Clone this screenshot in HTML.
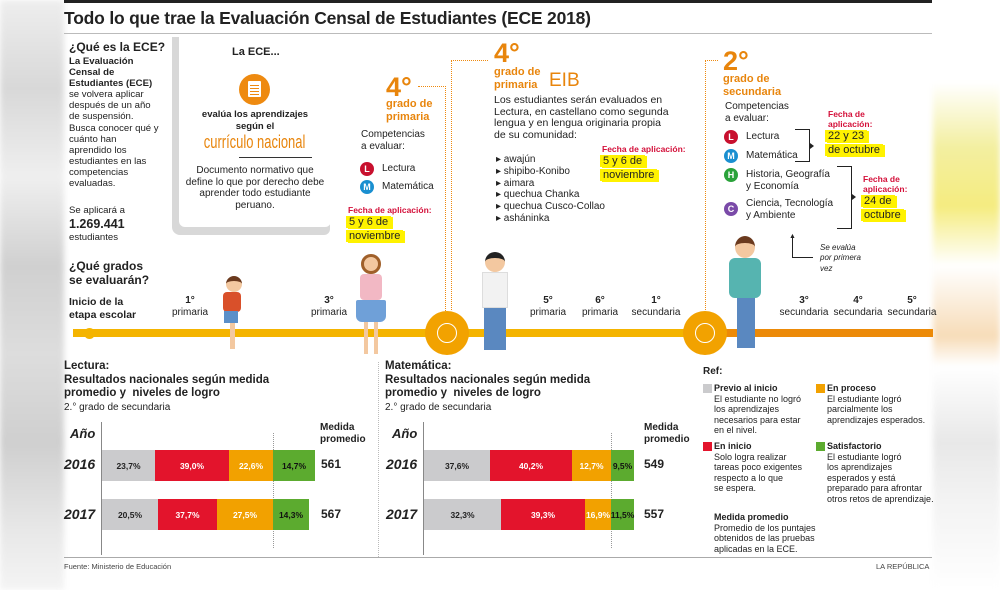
<!DOCTYPE html>
<html><head><meta charset="utf-8">
<style>
*{margin:0;padding:0;box-sizing:border-box}
body{width:1000px;height:590px;position:relative;overflow:hidden;background:#fff;font-family:"Liberation Sans","DejaVu Sans",sans-serif;color:#222}
.a{position:absolute;white-space:nowrap}
.b{font-weight:bold}
.or{color:#e8850c}
.red{color:#d4103a}
.hl{background:#fff200;padding:0 3px;box-shadow:2px 1px 0 #fff200}
.seg{position:absolute;height:31px;font-size:8.5px;font-weight:bold;display:flex;align-items:center;justify-content:center}
.g{background:#cbcbcd;color:#222}.r{background:#e3142c;color:#fff}.o{background:#f2a100;color:#fff}.gr{background:#5cab2f;color:#111}
.circ{position:absolute;width:14px;height:14px;border-radius:50%;color:#fff;font-size:9px;font-weight:bold;text-align:center;line-height:14px}
.sq{position:absolute;width:9px;height:9px}
.t9{font-size:9px;line-height:10.5px}
.t10{font-size:10px;line-height:11.7px}
.t11{font-size:11px;line-height:12px}
</style></head><body>
<!-- blurred sides -->
<div class="a" style="left:0;top:0;width:64px;height:590px;background:linear-gradient(180deg,#eee 0,#d8d8d8 15%,#efefef 30%,#d0d0d0 45%,#ddd 60%,#cfcfcf 75%,#e8e8e8 90%,#f4f4f4 100%);filter:blur(3px)"></div>
<div class="a" style="left:933px;top:0;width:67px;height:590px;background:linear-gradient(180deg,#fff 0,#fff 14%,#f3efa0 25%,#f5ec80 35%,#fff 45%,#f7dcb8 57%,#fff 62%,#e8e8e8 75%,#f3f3f3 85%,#fff 100%);filter:blur(3px)"></div>

<div class="a" style="left:64px;top:0;width:868px;height:3px;background:#222"></div>
<div class="a b" style="left:64px;top:8px;font-size:17.5px;letter-spacing:-0.2px">Todo lo que trae la Evaluación Censal de Estudiantes (ECE 2018)</div>
<div class="a" style="left:64px;top:33px;width:868px;height:1px;background:#bbb"></div>

<!-- left column -->
<div class="a b" style="left:69px;top:40px;font-size:12px">¿Qué es la ECE?</div>
<div class="a" style="left:69px;top:56px;font-size:9.6px;line-height:11.1px"><b>La Evaluación<br>Censal de<br>Estudiantes (ECE)</b><br>se volvera aplicar<br>después de un año<br>de suspensión.<br>Busca conocer qué y<br>cuánto han<br>aprendido los<br>estudiantes en las<br>competencias<br>evaluadas.</div>
<div class="a" style="left:69px;top:205px;font-size:9.6px">Se aplicará a</div>
<div class="a b" style="left:69px;top:217px;font-size:12.5px">1.269.441</div>
<div class="a" style="left:69px;top:232px;font-size:9.6px">estudiantes</div>
<div class="a b" style="left:69px;top:259px;font-size:12px;line-height:14px">¿Qué grados<br>se evaluarán?</div>
<div class="a b" style="left:69px;top:296px;font-size:10.5px;line-height:13px">Inicio de la<br>etapa escolar</div>

<!-- ECE box -->
<div class="a" style="left:172px;top:37px;width:158px;height:198px;background:#d8d8d8;border-radius:0 0 6px 8px"></div>
<div class="a" style="left:179px;top:37px;width:152px;height:190px;background:#fff;border-radius:0 0 6px 6px"></div>
<div class="a b" style="left:232px;top:46px;font-size:11px">La ECE...</div>
<div class="a" style="left:239px;top:74px;width:31px;height:31px;border-radius:50%;background:#ee8a10"></div>
<div class="a" style="left:248px;top:81px;width:13px;height:16px;background:#fff;border-radius:1px"></div>
<div class="a" style="left:250px;top:85px;width:9px;height:1px;background:#ee8a10;box-shadow:0 3px 0 #ee8a10,0 6px 0 #ee8a10,0 9px 0 #ee8a10"></div>
<div class="a b" style="left:179px;top:109px;width:152px;text-align:center;font-size:9.5px;line-height:12px">evalúa los aprendizajes<br>según el</div>
<div class="a or" style="left:179px;top:132px;width:152px;text-align:center;font-size:18px"><span style="display:inline-block;transform:scaleX(0.72)">currículo nacional</span></div>
<div class="a" style="left:239px;top:157px;width:73px;height:1px;background:#333"></div>
<div class="a t10" style="left:182px;top:165px;width:146px;text-align:center;white-space:normal;line-height:11.7px">Documento normativo que define lo que por derecho debe aprender todo estudiante peruano.</div>

<!-- 4 primaria -->
<div class="a b or" style="left:386px;top:72px;font-size:27px">4°</div>
<div class="a b or" style="left:386px;top:98px;font-size:11px;line-height:12.5px">grado de<br>primaria</div>
<div class="a" style="left:418px;top:86px;width:28px;border-top:1.5px dotted #ee8a10"></div>
<div class="a" style="left:445px;top:86px;height:225px;border-left:1.5px dotted #ee8a10"></div>
<div class="a t10" style="left:361px;top:129px">Competencias<br>a evaluar:</div>
<div class="circ" style="left:360px;top:162px;background:#c8102e">L</div><div class="a t10" style="left:382px;top:163px">Lectura</div>
<div class="circ" style="left:360px;top:180px;background:#1a8fd0">M</div><div class="a t10" style="left:382px;top:181px">Matemática</div>
<div class="a b red" style="left:348px;top:205px;font-size:8.5px">Fecha de aplicación:</div>
<div class="a t11" style="left:346px;top:216px;line-height:13.5px"><span class="hl">5 y 6 de</span><br><span class="hl">noviembre</span></div>

<!-- EIB -->
<div class="a" style="left:451px;top:60px;width:37px;border-top:1.5px dotted #ee8a10"></div>
<div class="a" style="left:451px;top:60px;height:250px;border-left:1.5px dotted #ee8a10"></div>
<div class="a b or" style="left:494px;top:38px;font-size:27px">4°</div>
<div class="a b or" style="left:494px;top:66px;font-size:11px;line-height:12.5px">grado de<br>primaria</div>
<div class="a or" style="left:549px;top:70px;font-size:19px">EIB</div>
<div class="a t10" style="left:494px;top:95px;font-size:10.5px">Los estudiantes serán evaluados en<br>Lectura, en castellano como segunda<br>lengua y en lengua originaria propia<br>de su comunidad:</div>
<div class="a t10" style="left:496px;top:154px;line-height:11.8px">▸ awajún<br>▸ shipibo-Konibo<br>▸ aimara<br>▸ quechua Chanka<br>▸ quechua Cusco-Collao<br>▸ asháninka</div>
<div class="a b red" style="left:602px;top:144px;font-size:8.5px">Fecha de aplicación:</div>
<div class="a t11" style="left:600px;top:155px;line-height:13.5px"><span class="hl">5 y 6 de</span><br><span class="hl">noviembre</span></div>

<!-- 2 secundaria -->
<div class="a" style="left:705px;top:60px;width:13px;border-top:1.5px dotted #ee8a10"></div>
<div class="a" style="left:705px;top:60px;height:250px;border-left:1.5px dotted #ee8a10"></div>
<div class="a b or" style="left:723px;top:46px;font-size:27px">2°</div>
<div class="a b or" style="left:723px;top:73px;font-size:11px;line-height:12.5px">grado de<br>secundaria</div>
<div class="a t10" style="left:725px;top:101px">Competencias<br>a evaluar:</div>
<div class="circ" style="left:724px;top:130px;background:#c8102e">L</div><div class="a t10" style="left:746px;top:131px">Lectura</div>
<div class="circ" style="left:724px;top:149px;background:#1a8fd0">M</div><div class="a t10" style="left:746px;top:150px">Matemática</div>
<div class="circ" style="left:724px;top:168px;background:#2aa23a">H</div><div class="a t10" style="left:746px;top:169px">Historia, Geografía<br>y Economía</div>
<div class="circ" style="left:724px;top:202px;background:#7a4aa8">C</div><div class="a t10" style="left:746px;top:198px">Ciencia, Tecnología<br>y Ambiente</div>
<div class="a" style="left:795px;top:129px;width:15px;height:33px;border:1.3px solid #222;border-left:none"></div>
<div class="a" style="left:810px;top:143px;width:0;height:0;border-left:4px solid #222;border-top:3px solid transparent;border-bottom:3px solid transparent"></div>
<div class="a" style="left:837px;top:166px;width:15px;height:63px;border:1.3px solid #222;border-left:none"></div>
<div class="a" style="left:852px;top:194px;width:0;height:0;border-left:4px solid #222;border-top:3px solid transparent;border-bottom:3px solid transparent"></div>
<div class="a b red" style="left:828px;top:109px;font-size:8.5px;line-height:10px">Fecha de<br>aplicación:</div>
<div class="a t11" style="left:825px;top:130px;line-height:13.5px"><span class="hl">22 y 23</span><br><span class="hl">de octubre</span></div>
<div class="a b red" style="left:863px;top:174px;font-size:8.5px;line-height:10px">Fecha de<br>aplicación:</div>
<div class="a t11" style="left:861px;top:195px;line-height:13.5px"><span class="hl">24 de</span><br><span class="hl">octubre</span></div>
<div class="a" style="left:792px;top:236px;width:21px;height:22px;border-left:1px solid #222;border-bottom:1px solid #222"></div>
<div class="a" style="left:789px;top:233px;font-size:7px">▲</div>
<div class="a" style="left:820px;top:243px;font-size:8px;font-style:italic;line-height:10.3px">Se evalúa<br>por primera<br>vez</div>

<!-- timeline -->
<div class="a" style="left:73px;top:329px;width:650px;height:8px;background:#f4b400"></div>
<div class="a" style="left:720px;top:329px;width:213px;height:8px;background:#ec8a08"></div>
<div class="a" style="left:84px;top:328px;width:11px;height:11px;border-radius:50%;background:#f4b400"></div>
<div class="a" style="left:425px;top:311px;width:44px;height:44px;border-radius:50%;background:#f2a200"></div>
<div class="a" style="left:437px;top:323px;width:20px;height:20px;border-radius:50%;border:1.5px solid #fff"></div>
<div class="a" style="left:683px;top:311px;width:44px;height:44px;border-radius:50%;background:#f2a200"></div>
<div class="a" style="left:695px;top:323px;width:20px;height:20px;border-radius:50%;border:1.5px solid #fff"></div>
<div class="a t10" style="left:165px;top:295px;width:50px;text-align:center;line-height:12px"><b>1°</b><br>primaria</div>
<div class="a t10" style="left:304px;top:295px;width:50px;text-align:center;line-height:12px"><b>3°</b><br>primaria</div>
<div class="a t10" style="left:523px;top:295px;width:50px;text-align:center;line-height:12px"><b>5°</b><br>primaria</div>
<div class="a t10" style="left:575px;top:295px;width:50px;text-align:center;line-height:12px"><b>6°</b><br>primaria</div>
<div class="a t10" style="left:626px;top:295px;width:60px;text-align:center;line-height:12px"><b>1°</b><br>secundaria</div>
<div class="a t10" style="left:774px;top:295px;width:60px;text-align:center;line-height:12px"><b>3°</b><br>secundaria</div>
<div class="a t10" style="left:828px;top:295px;width:60px;text-align:center;line-height:12px"><b>4°</b><br>secundaria</div>
<div class="a t10" style="left:882px;top:295px;width:60px;text-align:center;line-height:12px"><b>5°</b><br>secundaria</div>

<!-- kids (simple) -->
<div class="a" style="left:226px;top:276px;width:16px;height:16px;border-radius:50%;background:#f3c8a0;border-top:5px solid #6b3a1e"></div>
<div class="a" style="left:223px;top:292px;width:18px;height:20px;background:#d9502a;border-radius:4px"></div>
<div class="a" style="left:224px;top:311px;width:14px;height:12px;background:#5b8fc8"></div>
<div class="a" style="left:230px;top:323px;width:5px;height:26px;background:#f3c8a0"></div>
<div class="a" style="left:361px;top:254px;width:20px;height:20px;border-radius:50%;background:#f3c8a0;border:3px solid #a0602a"></div>
<div class="a" style="left:360px;top:274px;width:22px;height:26px;background:#f2b8c4;border-radius:4px"></div>
<div class="a" style="left:356px;top:300px;width:30px;height:22px;background:#6fa0d8;border-radius:2px 2px 6px 6px"></div>
<div class="a" style="left:364px;top:322px;width:4px;height:32px;background:#f3c8a0;box-shadow:10px 0 0 #f3c8a0"></div>
<div class="a" style="left:485px;top:252px;width:20px;height:20px;border-radius:50%;background:#f3c8a0;border-top:6px solid #222"></div>
<div class="a" style="left:482px;top:272px;width:26px;height:36px;background:#f2f2f2;border:1px solid #ddd"></div>
<div class="a" style="left:484px;top:308px;width:22px;height:42px;background:#5a88c0"></div>
<div class="a" style="left:735px;top:236px;width:20px;height:22px;border-radius:50%;background:#f3c8a0;border-top:7px solid #6b3a1e"></div>
<div class="a" style="left:729px;top:258px;width:32px;height:40px;background:#56b4b0;border-radius:6px"></div>
<div class="a" style="left:737px;top:298px;width:18px;height:50px;background:#5a88c0"></div>

<!-- Lectura chart -->
<div class="a b" style="left:64px;top:360px;font-size:11.5px;line-height:13.5px">Lectura:<br>Resultados nacionales según medida<br>promedio y&nbsp; niveles de logro</div>
<div class="a t10" style="left:64px;top:402px">2.° grado de secundaria</div>
<div class="a b" style="left:70px;top:426px;font-size:13px;font-style:italic">Año</div>
<div class="a b" style="left:320px;top:422px;font-size:10px;line-height:12px">Medida<br>promedio</div>
<div class="a" style="left:101px;top:422px;width:1px;height:133px;background:#888"></div>
<div class="a" style="left:273px;top:433px;height:115px;border-left:1px dotted #999"></div>
<div class="a b" style="left:64px;top:456px;font-size:14px;font-style:italic">2016</div>
<div class="a b" style="left:64px;top:506px;font-size:14px;font-style:italic">2017</div>
<div class="seg g" style="left:102px;top:450px;width:53px">23,7%</div>
<div class="seg r" style="left:155px;top:450px;width:74px">39,0%</div>
<div class="seg o" style="left:229px;top:450px;width:44px">22,6%</div>
<div class="seg gr" style="left:273px;top:450px;width:42px">14,7%</div>
<div class="a b" style="left:321px;top:457px;font-size:12px">561</div>
<div class="seg g" style="left:102px;top:499px;width:56px">20,5%</div>
<div class="seg r" style="left:158px;top:499px;width:59px">37,7%</div>
<div class="seg o" style="left:217px;top:499px;width:56px">27,5%</div>
<div class="seg gr" style="left:273px;top:499px;width:36px">14,3%</div>
<div class="a b" style="left:321px;top:507px;font-size:12px">567</div>

<div class="a" style="left:378px;top:362px;height:195px;border-left:1px dotted #bbb"></div>

<!-- Matemática chart -->
<div class="a b" style="left:385px;top:360px;font-size:11.5px;line-height:13.5px">Matemática:<br>Resultados nacionales según medida<br>promedio y&nbsp; niveles de logro</div>
<div class="a t10" style="left:385px;top:402px">2.° grado de secundaria</div>
<div class="a b" style="left:392px;top:426px;font-size:13px;font-style:italic">Año</div>
<div class="a b" style="left:644px;top:422px;font-size:10px;line-height:12px">Medida<br>promedio</div>
<div class="a" style="left:423px;top:422px;width:1px;height:133px;background:#888"></div>
<div class="a" style="left:611px;top:433px;height:115px;border-left:1px dotted #999"></div>
<div class="a b" style="left:386px;top:456px;font-size:14px;font-style:italic">2016</div>
<div class="a b" style="left:386px;top:506px;font-size:14px;font-style:italic">2017</div>
<div class="seg g" style="left:424px;top:450px;width:66px">37,6%</div>
<div class="seg r" style="left:490px;top:450px;width:82px">40,2%</div>
<div class="seg o" style="left:572px;top:450px;width:39px">12,7%</div>
<div class="seg gr" style="left:611px;top:450px;width:23px">9,5%</div>
<div class="a b" style="left:644px;top:457px;font-size:12px">549</div>
<div class="seg g" style="left:424px;top:499px;width:77px">32,3%</div>
<div class="seg r" style="left:501px;top:499px;width:84px">39,3%</div>
<div class="seg o" style="left:585px;top:499px;width:26px">16,9%</div>
<div class="seg gr" style="left:611px;top:499px;width:23px">11,5%</div>
<div class="a b" style="left:644px;top:507px;font-size:12px">557</div>

<!-- Ref -->
<div class="a b" style="left:703px;top:366px;font-size:10px">Ref:</div>
<div class="sq" style="left:703px;top:384px;background:#cbcbcd"></div>
<div class="a t9" style="left:714px;top:383px"><b>Previo al inicio</b><br>El estudiante no logró<br>los aprendizajes<br>necesarios para estar<br>en el nivel.</div>
<div class="sq" style="left:816px;top:384px;background:#f2a100"></div>
<div class="a t9" style="left:827px;top:383px"><b>En proceso</b><br>El estudiante logró<br>parcialmente los<br>aprendizajes esperados.</div>
<div class="sq" style="left:703px;top:442px;background:#e3142c"></div>
<div class="a t9" style="left:714px;top:441px"><b>En inicio</b><br>Solo logra realizar<br>tareas poco exigentes<br>respecto a lo que<br>se espera.</div>
<div class="sq" style="left:816px;top:442px;background:#5cab2f"></div>
<div class="a t9" style="left:827px;top:441px"><b>Satisfactorio</b><br>El estudiante logró<br>los aprendizajes<br>esperados y está<br>preparado para afrontar<br>otros retos de aprendizaje.</div>
<div class="a t9" style="left:714px;top:512px"><b>Medida promedio</b><br>Promedio de los puntajes<br>obtenidos de las pruebas<br>aplicadas en la ECE.</div>

<div class="a" style="left:64px;top:557px;width:868px;height:1px;background:#aaa"></div>
<div class="a" style="left:64px;top:562px;font-size:7.5px;color:#444">Fuente: Ministerio de Educación</div>
<div class="a" style="left:876px;top:562px;font-size:7.5px;color:#444">LA REPÚBLICA</div>
</body></html>
